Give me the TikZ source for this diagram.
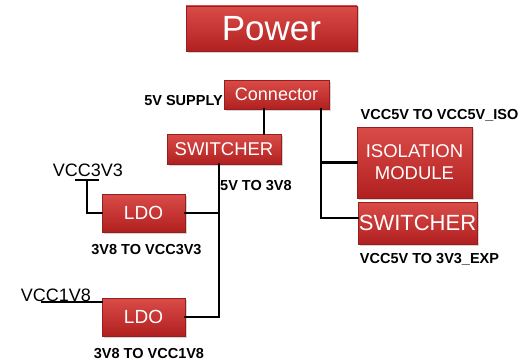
\documentclass[tikz,border=0pt]{standalone}
\usepackage{fontspec}
\setmainfont{Liberation Sans}
\usetikzlibrary{positioning,shadows}

\definecolor{boxtop}{RGB}{218,76,72}
\definecolor{boxbot}{RGB}{176,32,32}
\definecolor{boxline}{RGB}{150,30,30}

\begin{document}
\begin{tikzpicture}[x=1pt, y=-1pt,
    redbox/.style={draw=boxline, line width=0.4pt, top color=boxtop, bottom color=boxbot,
        text=white, align=center, inner sep=0pt,
        drop shadow={shadow xshift=1.5pt, shadow yshift=-1.5pt, opacity=0.35}},
    lbl/.style={font=\bfseries\fontsize{14.5}{16}\selectfont, inner sep=0pt},
    netname/.style={font=\fontsize{18}{20}\selectfont, inner sep=0pt},
    rail/.style={line width=2.4pt, line cap=rect}
]
\useasboundingbox (0,0) rectangle (529,361);

% Titel
\node[redbox, minimum width=171pt, minimum height=45pt,
      font=\fontsize{35}{38}\selectfont] (power) at (271.5,28.5) {Power};

% Hauptkette
\node[redbox, minimum width=105pt, minimum height=29pt,
      font=\fontsize{18}{20}\selectfont] (conn) at (276.5,94.5) {Connector};
\node[redbox, minimum width=114pt, minimum height=30pt,
      font=\fontsize{18.5}{20}\selectfont] (sw1) at (224,149) {SWITCHER};
\node[redbox, minimum width=115pt, minimum height=71pt,
      font=\fontsize{18.5}{22}\selectfont] (iso) at (414.5,162.5) {ISOLATION\\MODULE};
\node[redbox, minimum width=119pt, minimum height=42pt,
      font=\fontsize{22}{24}\selectfont] (sw2) at (417.5,223) {SWITCHER};

% LDOs
\node[redbox, minimum width=83pt, minimum height=38pt,
      font=\fontsize{19}{21}\selectfont] (ldo1) at (143.5,213) {LDO};
\node[redbox, minimum width=83pt, minimum height=38pt,
      font=\fontsize{19}{21}\selectfont] (ldo2) at (143.5,317) {LDO};

% Beschriftungen
\node[lbl] (supply) at (183.5,101) {5V SUPPLY};
\node[lbl, anchor=west] (sw1txt) at (220,186) {5V TO 3V8};
\node[lbl] (isotxt) at (439.5,115.5) {VCC5V TO VCC5V\_ISO};
\node[lbl] (sw2txt) at (429.5,259.5) {VCC5V TO 3V3\_EXP};
\node[lbl] (ldo1txt) at (146.5,250) {3V8 TO VCC3V3};
\node[lbl] (ldo2txt) at (149,353.5) {3V8 TO VCC1V8};
\node[netname] (vcc3) at (88,170) {VCC3V3};
\node[netname] (vcc1) at (56,295) {VCC1V8};

% Abgriffe unter den Netznamen
\coordinate (t3) at (87,180);
\coordinate (t1) at (56,302);
\draw[line width=1.2pt] ([xshift=-12pt]t3) -- ([xshift=12pt]t3);
\draw[line width=1.2pt] ([xshift=-15pt]t1) -- ([xshift=15pt]t1);

% Leitungen
\draw[rail] ([xshift=-12.5pt]conn.south) -- ([xshift=-12.5pt]conn.south |- sw1.north);
\draw[rail] ([xshift=44.5pt]conn.south) |- (iso.west);
\draw[rail] ([xshift=44.5pt]conn.south) |- ([yshift=5pt]sw2.west);
\draw[rail] ([xshift=-5pt]sw1.south) |- (ldo2.east);
\draw[rail] (ldo1.east) -| ([xshift=-5pt]sw1.south);
\draw[rail] (t3) |- (ldo1.west);
\draw[rail] (t1) |- ([yshift=15pt]ldo2.west);
\end{tikzpicture}
\end{document}
